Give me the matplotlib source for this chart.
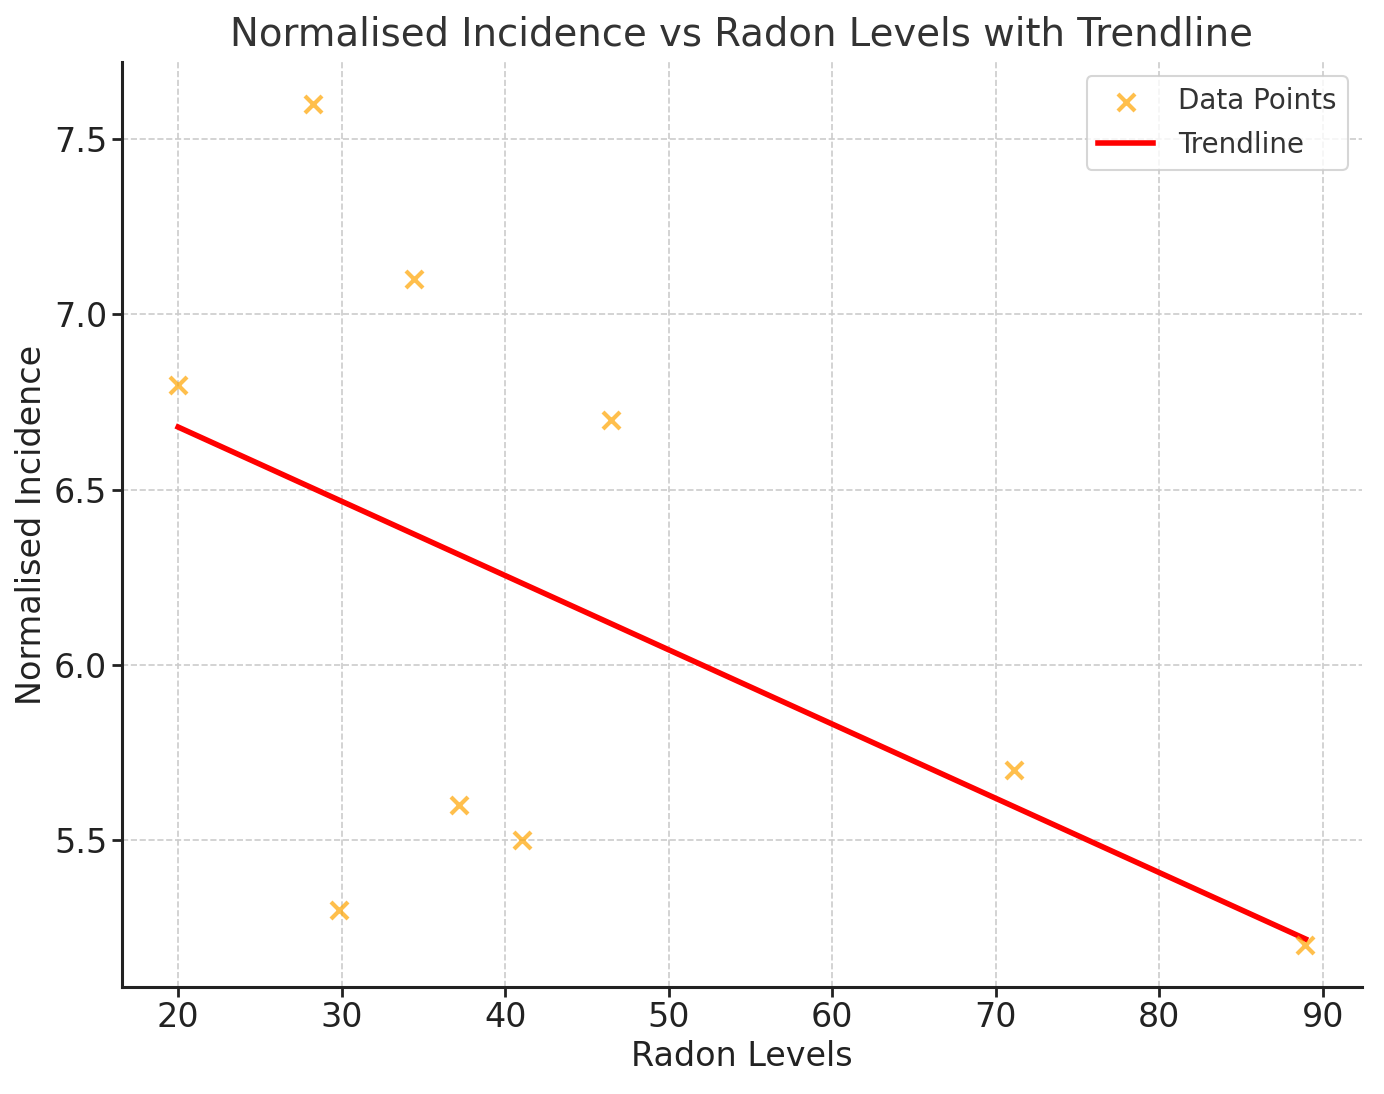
import numpy as np
import matplotlib
matplotlib.use('Agg')
import matplotlib.pyplot as plt

# Radon level readings and normalised incidence values
radon = [20.0, 28.25, 34.4, 46.5, 71.1, 88.95, 37.2, 41.0, 29.85]
incidence = [6.8, 7.6, 7.1, 6.7, 5.7, 5.2, 5.6, 5.5, 5.3]

# Linear fit for trendline
slope, intercept = np.polyfit(radon, incidence, 1)
x_line = np.array([min(radon), max(radon)])
y_line = slope * x_line + intercept

fig = plt.figure(figsize=(13.84, 10.94), dpi=100)
ax = fig.add_axes([0.088, 0.098, 0.896, 0.845])

ax.scatter(radon, incidence, marker='x', color='orange', alpha=0.7,
           s=150, linewidths=3, label='Data Points', zorder=3)
ax.plot(x_line, y_line, color='red', linewidth=4, label='Trendline', zorder=2)

ax.set_title('Normalised Incidence vs Radon Levels with Trendline',
             fontsize=27.8, color='#333333', pad=12)
ax.set_xlabel('Radon Levels', fontsize=24, color='#222222')
ax.set_ylabel('Normalised Incidence', fontsize=24, color='#222222')
ax.tick_params(labelsize=24, width=2, length=7, colors='#222222')
ax.set_yticks([5.5, 6.0, 6.5, 7.0, 7.5])

ax.grid(True, linestyle='--', color='#cccccc', linewidth=1.2)
ax.set_axisbelow(True)
for side in ['top', 'right']:
    ax.spines[side].set_visible(False)
for side in ['left', 'bottom']:
    ax.spines[side].set_linewidth(2.2)
    ax.spines[side].set_color('#222222')

leg = ax.legend(loc='upper right', fontsize=20, frameon=True,
                borderpad=0.4, handlelength=2.0, handletextpad=0.9,
                labelspacing=0.55, borderaxespad=0.5)
for t in leg.get_texts():
    t.set_color('#333333')
leg.get_frame().set_edgecolor('#cccccc')
leg.get_frame().set_linewidth(1.5)

fig.savefig('out.png', dpi=100)
